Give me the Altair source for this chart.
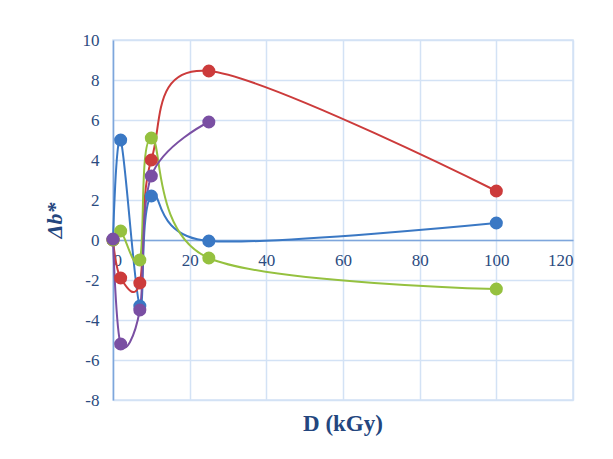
import altair as alt
import pandas as pd

doses = [0, 2, 7, 10, 25, 100]
blue = [0.0, 5.0, -3.3, 2.2, -0.05, 0.85]
red = [0.0, -1.9, -2.15, 4.0, 8.45, 2.45]
green = [0.0, 0.45, -1.0, 5.1, -0.9, -2.45]
purple = [0.05, -5.2, -3.5, 3.2, 5.9, None]

series = {"blue": blue, "red": red, "green": green, "purple": purple}
colors = {"blue": "#3A78C4", "red": "#CC3B3B", "green": "#95C13F", "purple": "#7A4FA3"}
order = ["blue", "red", "green", "purple"]

rows = []
for s in order:
    for d, v in zip(doses, series[s]):
        if v is not None:
            rows.append({"series": s, "D": d, "db": v, "o": order.index(s)})
df = pd.DataFrame(rows)

FONT = "Liberation Serif"
color_scale = alt.Scale(domain=order, range=[colors[s] for s in order])

x = alt.X("D:Q", scale=alt.Scale(domain=[0, 120], nice=False),
          axis=alt.Axis(values=[0, 20, 40, 60, 80, 100, 120], title=None, offset=-160,
                        labelPadding=12, ticks=False, domainColor="#7EA6DC",
                        labelExpr="'' + datum.value", labelFont=FONT,
                        domainWidth=1.5, gridColor="#D3E2F5", gridWidth=1.5))
y = alt.Y("db:Q", scale=alt.Scale(domain=[-8, 10], nice=False),
          axis=alt.Axis(values=list(range(-8, 11, 2)), title="Δb*", ticks=False,
                        labelExpr="'' + datum.value", labelFont=FONT, titleFont=FONT,
                        labelPadding=14, titlePadding=16, domainColor="#7EA6DC",
                        domainWidth=1.5, gridColor="#D3E2F5", gridWidth=1.5,
                        titleFontStyle="italic"))

base = alt.Chart(df)
lines = base.mark_line(interpolate="cardinal", strokeWidth=2).encode(
    x=x, y=y, color=alt.Color("series:N", scale=color_scale, legend=None),
    detail="series:N")
points = base.mark_circle(size=170, opacity=1).encode(
    x=x, y=y, color=alt.Color("series:N", scale=color_scale, legend=None),
    order=alt.Order("o:Q"))

chart = (lines + points).properties(
    width=460, height=360,
    autosize=alt.AutoSizeParams(type="none"),
    padding={"left": 105, "top": 32, "right": 32, "bottom": 60},
    title=alt.TitleParams("D (kGy)", orient="bottom", anchor="middle", offset=5,
                          font=FONT, fontSize=23, fontWeight="bold",
                          color="#23467E"),
).configure(font=FONT).configure_axis(
    labelFont=FONT, labelFontSize=17, labelColor="#2B4B80",
    titleFont=FONT, titleFontSize=22, titleFontWeight="bold",
    titleColor="#23467E",
).configure_view(stroke="#D3E2F5", strokeWidth=1.5)

chart.save("out.html", embed_options={"renderer": "svg", "actions": False})
